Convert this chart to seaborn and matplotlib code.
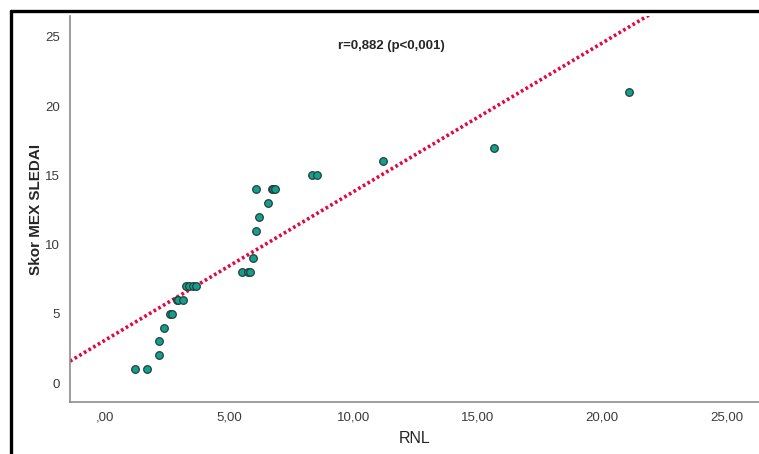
import matplotlib
matplotlib.use("Agg")
import matplotlib.pyplot as plt
import pandas as pd
import seaborn as sns
from matplotlib.lines import Line2D
from matplotlib.ticker import FuncFormatter

# RNL vs Skor MEX SLEDAI
rnl = [1.2, 1.7, 2.16, 2.18, 2.39, 2.63, 2.69, 2.88, 2.95, 3.13,
       3.27, 3.38, 3.55, 3.64, 5.49, 5.73, 5.83, 5.96, 6.07, 6.2,
       6.57, 6.09, 6.7, 6.77, 6.83, 8.31, 8.51, 11.19, 15.66, 21.07]
skor = [1, 1, 2, 3, 4, 5, 5, 6, 6, 6,
        7, 7, 7, 7, 8, 8, 8, 9, 11, 12,
        13, 14, 14, 14, 14, 15, 15, 16, 17, 21]

x_ticks = [0, 5, 10, 15, 20, 25]
y_ticks = [0, 5, 10, 15, 20, 25]
annot = "r=0,882 (p<0,001)"

df = pd.DataFrame({"RNL": rnl, "Skor MEX SLEDAI": skor})

sns.set_style("white")
plt.rcParams["font.family"] = ["Liberation Sans", "DejaVu Sans"]

fig = plt.figure(figsize=(7.59, 4.54), dpi=100)
ax = fig.add_axes([0.0922, 0.1145, 0.9078, 0.8503])
ax.set_xlim(-1.41, 26.3)
ax.set_ylim(-1.37, 26.5)

sns.regplot(data=df, x="RNL", y="Skor MEX SLEDAI", ax=ax, scatter=False,
            ci=None, truncate=False,
            line_kws=dict(color="#e3073f", lw=2.6, linestyle=(0, (0.75, 0.75))))
sns.scatterplot(data=df, x="RNL", y="Skor MEX SLEDAI", ax=ax, s=30,
                color="#12a08e", edgecolor="#24403c", linewidth=0.9, zorder=3)

ax.set_xlim(-1.41, 26.3)
ax.set_ylim(-1.37, 26.5)
ax.set_xticks(x_ticks)
ax.set_yticks(y_ticks)
ax.xaxis.set_major_formatter(FuncFormatter(
    lambda v, p: ",00" if v == 0 else f"{v:.2f}".replace(".", ",")))
ax.tick_params(axis="both", length=0, labelsize=9.5, labelcolor="#3a3a3a")
ax.tick_params(axis="x", pad=7)
ax.tick_params(axis="y", pad=7)

for side in ["top", "right"]:
    ax.spines[side].set_visible(False)
for side in ["left", "bottom"]:
    ax.spines[side].set_color("#8c8c8c")
    ax.spines[side].set_linewidth(1.2)

ax.set_xlabel("RNL", fontsize=11.5, labelpad=5)
ax.set_ylabel("Skor MEX SLEDAI", fontsize=11, fontweight="bold", labelpad=2)

ax.text(391 / 759, 1 - 46 / 454, annot, transform=fig.transFigure,
        ha="center", va="center", fontsize=9.5, fontweight="bold")

# outer frame (top and left edges visible)
fig.add_artist(Line2D([0.0145, 0.0145], [0.0, 0.9758], color="black", lw=2.4,
                      transform=fig.transFigure))
fig.add_artist(Line2D([0.0145, 1.0], [0.9758, 0.9758], color="black", lw=2.4,
                      transform=fig.transFigure))

fig.savefig("out.png", dpi=100)
